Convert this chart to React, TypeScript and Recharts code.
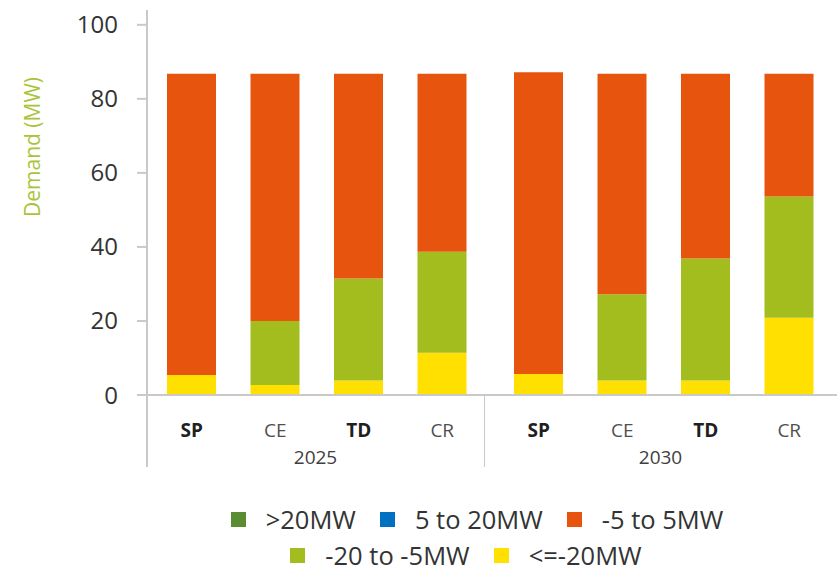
import React from 'react';
import { BarChart, Bar, XAxis, YAxis } from 'recharts';

const CATEGORIES = ['SP', 'CE', 'TD', 'CR'];
const BOLD_CATEGORIES = ['SP', 'TD'];
const YEARS = ['2025', '2030'];
const Y_TICKS = [0, 20, 40, 60, 80, 100];

// demand bands (MW), one value per category, per year
const GT20 = { '2025': [0, 0, 0, 0], '2030': [0, 0, 0, 0] };
const P5_TO_20 = { '2025': [0, 0, 0, 0], '2030': [0, 0, 0, 0] };
const M5_TO_5 = { '2025': [81.4, 66.8, 55.3, 48.1], '2030': [81.5, 59.6, 49.9, 33.2] };
const M20_TO_M5 = { '2025': [0, 17.3, 27.6, 27.3], '2030': [0, 23.3, 33.0, 32.7] };
const LE_M20 = { '2025': [5.4, 2.7, 3.9, 11.4], '2030': [5.7, 3.9, 3.9, 20.9] };

// stacking order, bottom first
const SERIES = [
  { key: 'le20', name: '<=-20MW', color: '#FFE000', values: LE_M20 },
  { key: 'm20', name: '-20 to -5MW', color: '#A3BD1F', values: M20_TO_M5 },
  { key: 'm5', name: '-5 to 5MW', color: '#E6540E', values: M5_TO_5 },
  { key: 'p5', name: '5 to 20MW', color: '#0070C0', values: P5_TO_20 },
  { key: 'gt20', name: '>20MW', color: '#5A8C32', values: GT20 },
];

// legend rows as they appear
const LEGEND_ROWS = [['gt20', 'p5', 'm5'], ['m20', 'le20']];

const FONT = '"Open Sans", "Noto Sans", sans-serif';
const AXIS_GREY = '#C9C9C9';

const buildData = (year: string) =>
  CATEGORIES.map((cat, i) => {
    const row: Record<string, string | number> = { cat };
    SERIES.forEach((s) => {
      row[s.key] = s.values[year][i];
    });
    return row;
  });

const CatTick = (props: any) => {
  const { x, y, payload } = props;
  const bold = BOLD_CATEGORIES.includes(payload.value);
  return (
    <text
      x={x}
      y={y + 42}
      textAnchor="middle"
      fontSize={19}
      fontFamily={FONT}
      fontWeight={bold ? 700 : 400}
      fill={bold ? '#1F1F1F' : '#505050'}
    >
      {payload.value}
    </text>
  );
};

const YearLabel = (props: any) => {
  const { viewBox, year } = props;
  if (!viewBox) return null;
  const { x, y, width, height } = viewBox;
  return (
    <g>
      <line x1={x} y1={y} x2={x} y2={y + height} stroke={AXIS_GREY} strokeWidth={2} />
      <text
        x={x + width / 2}
        y={y + height - 3}
        textAnchor="middle"
        fontSize={19}
        fontFamily={FONT}
        fill="#404040"
      >
        {year}
      </text>
    </g>
  );
};

const YTitle = (props: any) => {
  const { viewBox } = props;
  if (!viewBox) return null;
  const cx = viewBox.x + 32;
  const cy = viewBox.y + 137;
  return (
    <text
      x={cx}
      y={cy}
      transform={`rotate(-90 ${cx} ${cy})`}
      textAnchor="middle"
      dominantBaseline="central"
      fontSize={21}
      fontFamily={FONT}
      fill="#A9C43A"
    >
      Demand (MW)
    </text>
  );
};

const YearChart = ({ year, first }: { year: string; first: boolean }) => (
  <BarChart
    width={first ? 484 : 355}
    height={475}
    data={buildData(year)}
    margin={{ top: 10, right: first ? 0 : 2, bottom: 8, left: 0 }}
    barSize={49}
  >
    <XAxis
      dataKey="cat"
      height={72}
      tickSize={0}
      tickMargin={0}
      tickLine={false}
      axisLine={{ stroke: AXIS_GREY, strokeWidth: 2 }}
      tick={<CatTick />}
      interval={0}
      padding={first ? { left: 3, right: 0 } : { left: 13, right: 6 }}
      label={<YearLabel year={year} />}
    />
    {first ? (
      <YAxis
        width={147}
        domain={[0, 104]}
        ticks={Y_TICKS}
        interval={0}
        tickSize={10}
        tickMargin={19}
        axisLine={{ stroke: AXIS_GREY, strokeWidth: 2 }}
        tickLine={{ stroke: AXIS_GREY, strokeWidth: 2 }}
        tick={{ fontSize: 24, fill: '#333333', fontFamily: FONT }}
        label={<YTitle />}
      />
    ) : (
      <YAxis hide domain={[0, 104]} />
    )}
    {SERIES.map((s) => (
      <Bar key={s.key} dataKey={s.key} name={s.name} stackId="a" fill={s.color} isAnimationActive={false} />
    ))}
  </BarChart>
);

const LegendItem = ({ name, color }: { name: string; color: string }) => (
  <div style={{ display: 'flex', alignItems: 'center', margin: '0 12px' }}>
    <span style={{ width: 15, height: 15, background: color, display: 'inline-block', marginRight: 20 }} />
    <span>{name}</span>
  </div>
);

export default function App() {
  return (
    <div
      style={{
        position: 'absolute',
        left: 0,
        top: 0,
        width: 839,
        height: 571,
        background: '#FFFFFF',
        fontFamily: FONT,
        overflow: 'hidden',
      }}
    >
      <div style={{ position: 'absolute', left: 0, top: 0, display: 'flex' }}>
        {YEARS.map((y, i) => (
          <YearChart key={y} year={y} first={i === 0} />
        ))}
      </div>
      {LEGEND_ROWS.map((row, r) => (
        <div
          key={r}
          style={{
            position: 'absolute',
            left: r === 0 ? 100 : 89,
            width: 754,
            top: r === 0 ? 505 : 541,
            display: 'flex',
            justifyContent: 'center',
            fontSize: 25.5,
            lineHeight: '29px',
            color: '#333333',
          }}
        >
          {row.map((k) => {
            const s = SERIES.find((d) => d.key === k)!;
            return <LegendItem key={k} name={s.name} color={s.color} />;
          })}
        </div>
      ))}
    </div>
  );
}
